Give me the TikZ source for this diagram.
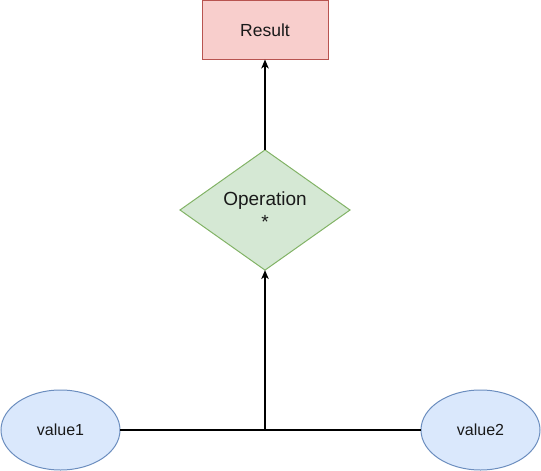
\documentclass[tikz,border=0pt]{standalone}
\usepackage{fontspec}
\setmainfont{Liberation Sans}
\usetikzlibrary{shapes.geometric,arrows.meta}

\definecolor{resfill}{HTML}{F8CECC}
\definecolor{resline}{HTML}{B85450}
\definecolor{opfill}{HTML}{D5E8D4}
\definecolor{opline}{HTML}{82B366}
\definecolor{valfill}{HTML}{DAE8FC}
\definecolor{valline}{HTML}{6C8EBF}
\definecolor{textgray}{HTML}{1A1A1A}

\begin{document}
\begin{tikzpicture}[x=1pt,y=-1pt,
	valuenode/.style={ellipse,draw=valline,fill=valfill,line width=1pt,minimum width=119pt,minimum height=80pt,inner sep=0pt,outer sep=0pt,text=textgray,font=\fontsize{16}{19}\selectfont},
	link/.style={line width=1.3pt,-{Stealth[length=9pt,width=7.5pt,inset=2.5pt]}}]
		\useasboundingbox (0,0) rectangle (541,471);

		\draw (265,30) node (res) [rectangle,draw=resline,fill=resfill,line width=1pt,minimum width=126pt,minimum height=59pt,inner sep=0pt,outer sep=0pt,text=textgray,font=\fontsize{17.5}{21}\selectfont] {Result};

		\draw (265,210) node (op) [diamond,draw=opline,fill=opfill,line width=1pt,minimum width=170pt,minimum height=120pt,inner sep=0pt,outer sep=0pt,align=center,text=textgray,font=\fontsize{19}{23}\selectfont] {Operation\\*};

		\draw (60.5,430) node (val1) [valuenode] {value1};
		\draw (480.5,430) node (val2) [valuenode] {value2};

		\coordinate (join) at (265,430.5);

		\draw[line width=1.3pt] (val1.east) -- (val2.west);
		\draw[link] (join) -- (op.south);
		\draw[link] (op.north) -- (res.south);

	\end{tikzpicture}
\end{document}
